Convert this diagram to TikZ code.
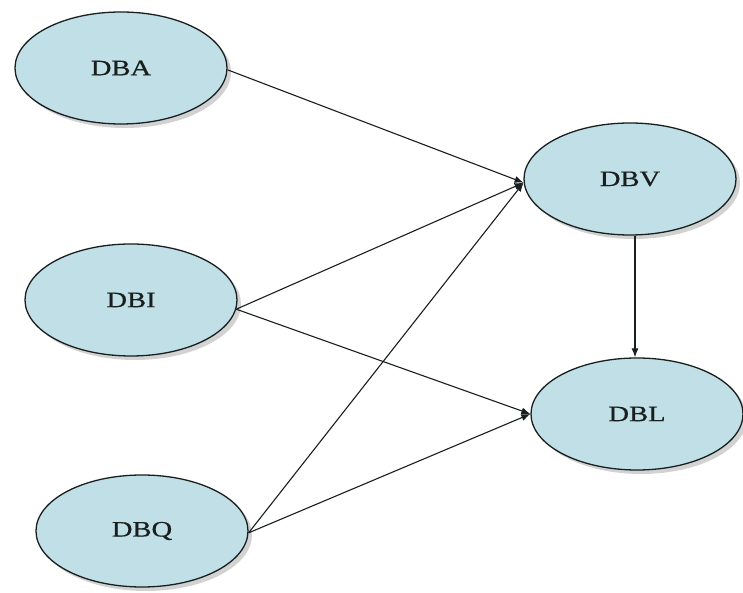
\documentclass[tikz,border=0pt]{standalone}
\usepackage{fontspec}
\setmainfont{Liberation Serif}
\newfontfamily\lblfont[FakeStretch=1.3,FakeBold=0.6]{Liberation Serif}
\usetikzlibrary{shapes.geometric,shadows,arrows.meta,calc}
\definecolor{ellfill}{RGB}{193,223,230}
\definecolor{ink}{RGB}{25,30,30}
\tikzset{
  dbnode/.style={ellipse, draw=ink, line width=1.3pt, fill=ellfill,
    minimum width=212pt, minimum height=112pt, inner sep=0pt,
    font=\lblfont\fontsize{22}{26}\selectfont, text=ink,
    drop shadow={shadow xshift=4pt, shadow yshift=-4pt, opacity=0.35, fill=gray}},
  arr/.style={draw=ink, line width=1.1pt, -{Latex[length=9pt,width=7pt]}}
}
\begin{document}
\begin{tikzpicture}[x=1pt,y=1pt]
\useasboundingbox[fill=white] (0,0) rectangle (743,593);
\node[dbnode] (dba) at (121,525) {DBA};
\node[dbnode] (dbi) at (131,293) {DBI};
\node[dbnode] (dbq) at (142,62) {DBQ};
\node[dbnode] (dbv) at (630,414) {DBV};
\node[dbnode] (dbl) at (637,179) {DBL};
\coordinate (vx) at (635,300);
\draw[arr] (dba.-1) -- (dbv.182);
\draw[arr] (dbi.-5) -- (dbv.182);
\draw[arr] (dbi.-5) -- (dbl.180);
\draw[arr] (dbq.-1) -- (dbv.182);
\draw[arr] (dbq.-1) -- (dbl.180);
\draw[arr] (vx |- dbv.south) -- (vx |- dbl.north);
\end{tikzpicture}
\end{document}
